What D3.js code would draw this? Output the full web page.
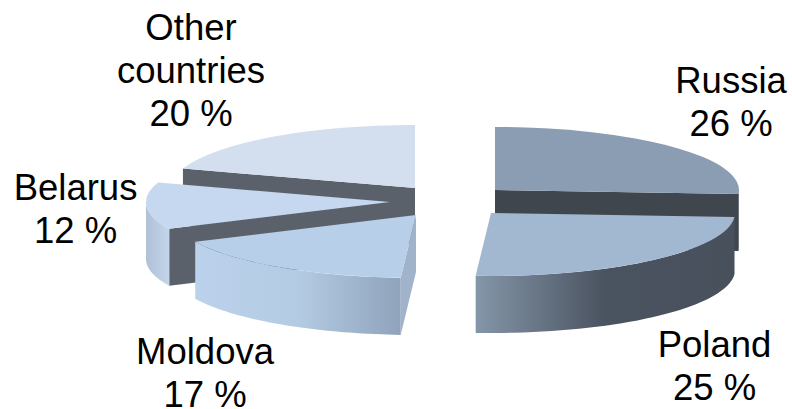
<!DOCTYPE html>
<html>
<head>
<meta charset="utf-8">
<script src="https://d3js.org/d3.v7.min.js"></script>
<style>
  html, body { margin: 0; padding: 0; background: #fff; }
  svg { display: block; }
  .label { font-family: "Liberation Sans", Arial, sans-serif; font-size: 36.5px; fill: #000; text-anchor: middle; }
</style>
</head>
<body>
<svg width="792" height="409"></svg>
<script>
// clockwise from 12 o'clock
var categories = ["Russia", "Poland", "Moldova", "Belarus", "Other countries"];
var shares = [26, 25, 17, 12, 20];
var labelLines = [["Russia"], ["Poland"], ["Moldova"], ["Belarus"], ["Other", "countries"]];

// layout, one per slice
var apexes = [[495, 190], [491, 213], [416, 215], [390, 202], [415, 188]];
var labelPos = [[731, 93], [714.5, 357], [205, 364], [75.5, 200], [191, 40]];
var rx = 244, ry = 63, depth = 57, lineHeight = 43;

// styles, one per slice
var topColours = ["#8b9db3", "#a2b7d0", "#b8cfe9", "#c6d8ef", "#d3dfee"];
var capColours = ["#3f464e", "#4a5360", "#a0b3cb", "#5b616a", "#5b616a"];
var wallStops = [
  ["#3f464e", "#3f464e"],
  ["#8496a9", "#4a5360", "#48505c"],
  ["#bcd2ec", "#b4cbe4", "#8fa3bb"],
  ["#b0c1d6", "#c4d6ec"],
  ["#c6d8ef", "#c6d8ef"]
];
var drawOrder = [4, 3, 2, 0, 1];

var svg = d3.select("svg");
var defs = svg.append("defs");

var pie = d3.pie().sort(null).startAngle(0).endAngle(2 * Math.PI);
var slices = pie(shares);

var arc = d3.arc().innerRadius(0).outerRadius(1);
var line = d3.line();

var rim = function(a, i, dy) {
  return [apexes[i][0] + rx * Math.sin(a), apexes[i][1] - ry * Math.cos(a) + dy];
};

var capPath = function(a, i) {
  var r = rim(a, i, 0), p = apexes[i];
  return line([p, r, [r[0], r[1] + depth], [p[0], p[1] + depth]]) + "Z";
};

// the part of the rim that faces the viewer, between 90 and 270 degrees
var wallPath = function(d, i) {
  var a0 = Math.max(d.startAngle, Math.PI / 2), a1 = Math.min(d.endAngle, 3 * Math.PI / 2);
  if (a1 <= a0) return null;
  var steps = d3.range(0, 41).map(function(k) { return a0 + (a1 - a0) * k / 40; });
  var upper = steps.map(function(a) { return rim(a, i, 0); });
  var lower = steps.slice().reverse().map(function(a) { return rim(a, i, depth); });
  return line(upper.concat(lower)) + "Z";
};

var wallExtent = function(d, i) {
  var a0 = Math.max(d.startAngle, Math.PI / 2), a1 = Math.min(d.endAngle, 3 * Math.PI / 2);
  var xs = d3.range(0, 41).map(function(k) { return rim(a0 + (a1 - a0) * k / 40, i, 0)[0]; });
  return d3.extent(xs);
};

slices.forEach(function(d, i) {
  var ext = wallExtent(d, i);
  var g = defs.append("linearGradient")
    .attr("id", "wall-" + i)
    .attr("gradientUnits", "userSpaceOnUse")
    .attr("x1", ext[0])
    .attr("x2", ext[1])
    .attr("y1", 0)
    .attr("y2", 0);
  g.selectAll("stop")
    .data(wallStops[i])
    .enter()
    .append("stop")
    .attr("offset", function(c, k) { return k / (wallStops[i].length - 1); })
    .attr("stop-color", function(c) { return c; });
});

var chart = svg.append("g").attr("class", "pie");

drawOrder.forEach(function(i) {
  var d = slices[i];
  var g = chart.append("g").attr("class", "slice").datum(d);

  // end faces only show when the extrusion falls outside the slice
  if (d.startAngle > Math.PI && d.startAngle < 2 * Math.PI) {
    g.append("path").attr("d", capPath(d.startAngle, i)).attr("fill", capColours[i]);
  }
  if (d.endAngle > 0 && d.endAngle < Math.PI) {
    g.append("path").attr("d", capPath(d.endAngle, i)).attr("fill", capColours[i]);
  }

  var wall = wallPath(d, i);
  if (wall) {
    g.append("path").attr("d", wall).attr("fill", "url(#wall-" + i + ")");
  }

  g.append("path")
    .attr("d", arc(d))
    .attr("transform", "translate(" + apexes[i][0] + "," + apexes[i][1] + ") scale(" + rx + "," + ry + ")")
    .attr("fill", topColours[i]);
});

var labels = svg.append("g").attr("class", "labels");

categories.forEach(function(name, i) {
  var rows = labelLines[i].concat([shares[i] + " %"]);
  var t = labels.append("text")
    .attr("class", "label")
    .attr("transform", "translate(" + labelPos[i][0] + "," + labelPos[i][1] + ")");
  t.selectAll("tspan")
    .data(rows)
    .enter()
    .append("tspan")
    .attr("x", 0)
    .attr("y", function(r, k) { return k * lineHeight; })
    .text(function(r) { return r; });
});
</script>
</body>
</html>
